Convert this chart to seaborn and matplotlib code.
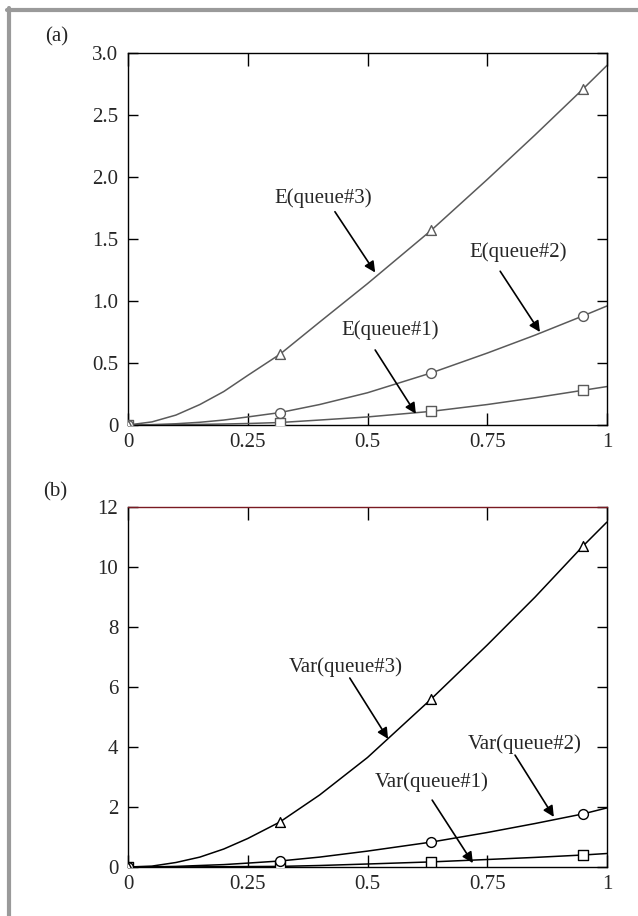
import matplotlib
matplotlib.use("Agg")
import matplotlib.pyplot as plt
from matplotlib.lines import Line2D
import seaborn as sns

# ---------------------------------------------------------
# Data
# ---------------------------------------------------------
curve_x = [0, 0.05, 0.1, 0.15, 0.2, 0.25, 0.317, 0.4, 0.5, 0.633, 0.75, 0.85, 0.95, 1.0]
marker_x = [0, 0.317, 0.633, 0.95]

# panel (a): expected queue lengths
e_queue3 = [0, 0.025, 0.08, 0.165, 0.27, 0.40, 0.57, 0.83, 1.14, 1.57, 1.98, 2.34, 2.71, 2.90]
e_queue2 = [0, 0.003, 0.01, 0.022, 0.04, 0.065, 0.10, 0.165, 0.26, 0.42, 0.58, 0.725, 0.88, 0.96]
e_queue1 = [0, 0, 0.002, 0.005, 0.008, 0.012, 0.02, 0.04, 0.065, 0.11, 0.165, 0.22, 0.28, 0.31]
e_marks3 = [0, 0.57, 1.57, 2.71]
e_marks2 = [0, 0.10, 0.42, 0.88]
e_marks1 = [0, 0.02, 0.11, 0.28]

# panel (b): variances
var_queue3 = [0, 0.03, 0.15, 0.33, 0.6, 0.95, 1.5, 2.4, 3.65, 5.6, 7.4, 9.0, 10.7, 11.5]
var_queue2 = [0, 0.005, 0.02, 0.05, 0.08, 0.13, 0.2, 0.33, 0.53, 0.83, 1.15, 1.45, 1.77, 1.97]
var_queue1 = [0, 0, 0.002, 0.005, 0.01, 0.015, 0.02, 0.05, 0.1, 0.17, 0.25, 0.32, 0.4, 0.45]
var_marks3 = [0, 1.5, 5.6, 10.7]
var_marks2 = [0, 0.2, 0.83, 1.77]
var_marks1 = [0, 0.02, 0.17, 0.4]

x_ticks = [0, 0.25, 0.5, 0.75, 1]
x_ticklabels = ["0", "0.25", "0.5", "0.75", "1"]
a_yticks = [0, 0.5, 1.0, 1.5, 2.0, 2.5, 3.0]
a_yticklabels = ["0", "0.5", "1.0", "1.5", "2.0", "2.5", "3.0"]
b_yticks = [0, 2, 4, 6, 8, 10, 12]
b_yticklabels = ["0", "2", "4", "6", "8", "10", "12"]

# label text, label position, arrow tail, arrow tip
a_notes = [
    ("E(queue#3)", (0.407, 1.83), (0.432, 1.72), (0.516, 1.23)),
    ("E(queue#2)", (0.814, 1.395), (0.777, 1.24), (0.860, 0.75)),
    ("E(queue#1)", (0.547, 0.766), (0.516, 0.605), (0.601, 0.09)),
]
b_notes = [
    ("Var(queue#3)", (0.455, 6.67), (0.463, 6.3), (0.543, 4.27)),
    ("Var(queue#2)", (0.829, 4.1), (0.808, 3.73), (0.889, 1.67)),
    ("Var(queue#1)", (0.633, 2.83), (0.635, 2.23), (0.720, 0.13)),
]

# ---------------------------------------------------------
# Style
# ---------------------------------------------------------
sns.set_style("ticks")
plt.rcParams["font.family"] = ["Liberation Serif", "DejaVu Serif"]
FS = 15


def style_axes(ax, yticks, yticklabels, ylim):
    ax.set_xlim(0, 1)
    ax.set_ylim(*ylim)
    ax.set_xticks(x_ticks)
    ax.set_xticklabels(x_ticklabels)
    ax.set_yticks(yticks)
    ax.set_yticklabels(yticklabels)
    ax.tick_params(axis="both", direction="in", top=True, right=True,
                   labelsize=FS, width=1.0, color="black")
    ax.tick_params(axis="x", length=9, pad=6)
    ax.tick_params(axis="y", length=7, pad=7)
    for side in ["left", "right", "bottom", "top"]:
        ax.spines[side].set_visible(True)
        ax.spines[side].set_linewidth(1.0)
        ax.spines[side].set_color("black")
    ax.set_xlabel("")
    ax.set_ylabel("")


def draw_panel(ax, curves, marks, color, lw):
    markers = ["s", "o", "^"]
    for ys, ms, mk in zip(curves, marks, markers):
        sns.lineplot(x=curve_x, y=ys, ax=ax, color=color, lw=lw, zorder=2)
        sns.scatterplot(x=marker_x, y=ms, ax=ax, marker=mk, s=50,
                        facecolor="white", edgecolor=color, linewidth=1.0,
                        zorder=3)


def annotate(ax, notes):
    for text, pos, tail, tip in notes:
        ax.text(pos[0], pos[1], text, ha="center", va="center", fontsize=FS)
        ax.annotate("", xy=tip, xytext=tail,
                    arrowprops=dict(arrowstyle="-|>", color="black", lw=1.2,
                                    mutation_scale=16, shrinkA=0, shrinkB=0))


fig = plt.figure(figsize=(6.38, 9.16), dpi=100)
fig.patch.set_facecolor("white")

ax_a = fig.add_axes([128 / 638, 1 - 425 / 916, 479 / 638, 372 / 916])
ax_b = fig.add_axes([128 / 638, 1 - 867 / 916, 479 / 638, 360 / 916])

draw_panel(ax_a, [e_queue1, e_queue2, e_queue3], [e_marks1, e_marks2, e_marks3],
           "#5a5a5a", 1.1)
style_axes(ax_a, a_yticks, a_yticklabels, (0, 3.0))
annotate(ax_a, a_notes)

draw_panel(ax_b, [var_queue1, var_queue2, var_queue3],
           [var_marks1, var_marks2, var_marks3], "black", 1.1)
style_axes(ax_b, b_yticks, b_yticklabels, (0, 12))
ax_b.spines["top"].set_color("#7a1a22")
annotate(ax_b, b_notes)

fig.text(57 / 638, 1 - 37 / 916, "(a)", ha="center", va="center", fontsize=FS)
fig.text(55 / 638, 1 - 492 / 916, "(b)", ha="center", va="center", fontsize=FS)

# grey frame on the top and left edges
frame = "#9a9a9a"
fig.add_artist(Line2D([7 / 638, 1.0], [1 - 9.5 / 916, 1 - 9.5 / 916],
                      transform=fig.transFigure, color=frame, lw=3))
fig.add_artist(Line2D([9 / 638, 9 / 638], [0, 1 - 8 / 916],
                      transform=fig.transFigure, color=frame, lw=3))

fig.savefig("out.png", dpi=100, facecolor="white")
